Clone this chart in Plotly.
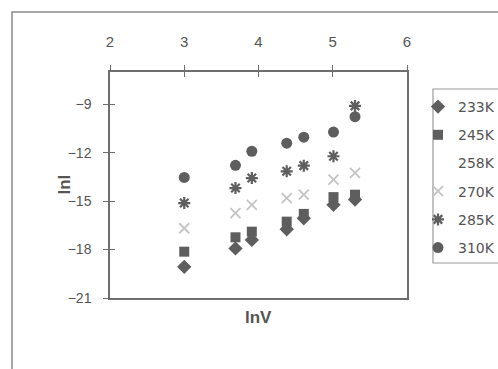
import plotly.graph_objects as go

# ---- data ----
lnV = [3.00, 3.69, 3.91, 4.38, 4.61, 5.01, 5.30]
lnI_233K = [-19.07, -17.93, -17.40, -16.74, -16.06, -15.23, -14.90]
lnI_245K = [-18.13, -17.24, -16.89, -16.27, -15.79, -14.75, -14.60]
lnI_258K = [None, None, None, None, None, None, None]
lnI_270K = [-16.68, -15.74, -15.23, -14.81, -14.60, -13.67, -13.25]
lnI_285K = [-15.12, -14.19, -13.57, -13.15, -12.80, -12.22, -9.10]
lnI_310K = [-13.53, -12.78, -11.91, -11.41, -11.04, -10.72, -9.77]
series_names = ["233K", "245K", "258K", "270K", "285K", "310K"]
x_ticks = [2, 3, 4, 5, 6]
y_ticks = [-21, -18, -15, -12, -9]

DARK = "#5e5e5e"
LIGHT = "#c4c4c4"
styles = {
    "233K": dict(symbol="diamond", size=11, color=DARK, line=dict(width=0)),
    "245K": dict(symbol="square", size=10, color=DARK, line=dict(width=0)),
    "258K": dict(symbol="circle", size=9, color="rgba(0,0,0,0)", line=dict(width=0)),
    "270K": dict(symbol="x-thin-open", size=10, color=LIGHT, line=dict(width=1.8, color=LIGHT)),
    "285K": dict(symbol="asterisk-open", size=10, color=DARK, line=dict(width=2.2, color=DARK)),
    "310K": dict(symbol="circle", size=11, color=DARK, line=dict(width=0)),
}
values = [lnI_233K, lnI_245K, lnI_258K, lnI_270K, lnI_285K, lnI_310K]

fig = go.Figure()
for name, ys in zip(series_names, values):
    fig.add_trace(go.Scatter(x=lnV, y=ys, mode="markers", name=name,
                             legendgroup=name, marker=styles[name]))

W, H = 498, 369
L, R, T, B = 110, 407, 72, 298
pw, ph = R - L, B - T

def px(xp):
    return (xp - L) / pw

def py(yp):
    return (B - yp) / ph

AX = "#6e6e6e"
TXT = "#555555"
FONT = "Liberation Sans, Arial, sans-serif"

fig.update_layout(
    width=W, height=H,
    margin=dict(l=L, r=W - R, t=T, b=H - B, autoexpand=False),
    paper_bgcolor="white", plot_bgcolor="white",
    font=dict(family=FONT, size=14, color=TXT),
    xaxis=dict(range=[2, 6], side="top", tickvals=x_ticks, ticks="outside", ticklen=5,
               tickcolor=AX, showline=True, linecolor=AX, linewidth=1.5, mirror=True,
               showgrid=False, zeroline=False, ticklabelstandoff=12,
               tickfont=dict(size=15, color=TXT)),
    yaxis=dict(range=[-21, -7], tickvals=y_ticks, ticks="outside", ticklen=5,
               tickcolor=AX, showline=True, linecolor=AX, linewidth=1.5, mirror=True,
               showgrid=False, zeroline=False, ticklabelstandoff=9,
               tickfont=dict(size=14, color=TXT)),
    xaxis2=dict(range=[2, 6], overlaying="x", side="top", tickvals=x_ticks, ticks="inside",
                ticklen=5, tickcolor=AX, showticklabels=False, showgrid=False, zeroline=False),
    yaxis2=dict(range=[-21, -7], overlaying="y", tickvals=y_ticks, ticks="inside",
                ticklen=5, tickcolor=AX, showticklabels=False, showgrid=False, zeroline=False),
    showlegend=True,
    legend=dict(x=px(418), y=py(91), xanchor="left", yanchor="top",
                bgcolor="rgba(0,0,0,0)", borderwidth=0,
                traceorder="grouped", tracegroupgap=7,
                font=dict(family="DejaVu Sans, sans-serif", size=14, color=TXT)),
)
# dummy trace to activate the secondary axes (for crossing ticks)
fig.add_trace(go.Scatter(x=[None], y=[None], xaxis="x2", yaxis="y2", showlegend=False,
                         hoverinfo="skip"))

# outer chart border and legend box
fig.add_shape(type="rect", xref="paper", yref="paper",
              x0=px(12), x1=px(530), y0=py(12), y1=py(400),
              line=dict(color="#8a8a8a", width=1.5), layer="below")
fig.add_shape(type="rect", xref="paper", yref="paper",
              x0=px(433), x1=px(530), y0=py(89), y1=py(263),
              line=dict(color="#9a9a9a", width=1.2), layer="below")

# axis titles
fig.add_annotation(text="<b>lnV</b>", xref="paper", yref="paper", x=px(258), y=py(329),
                   showarrow=False, font=dict(size=17, color=TXT))
fig.add_annotation(text="<b>lnI</b>", xref="paper", yref="paper", x=px(52), y=py(185),
                   showarrow=False, textangle=-90, font=dict(size=17, color=TXT))

fig.write_html("out.html")
